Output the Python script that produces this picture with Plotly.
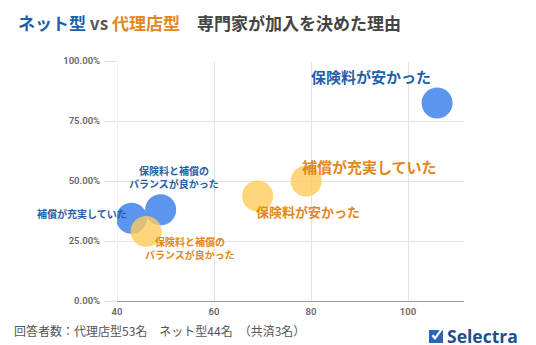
import plotly.graph_objects as go

# ---- data ----
net_labels = ["補償が充実していた", "保険料と補償の<br>バランスが良かった", "保険料が安かった"]
net_x = [43, 49, 106]
net_y = [0.345, 0.38, 0.825]

agency_labels = ["保険料と補償の<br>バランスが良かった", "保険料が安かった", "補償が充実していた"]
agency_x = [46, 69, 79]
agency_y = [0.29, 0.4375, 0.50]

x_ticks = [40, 60, 80, 100]
y_ticks = [0, 0.25, 0.5, 0.75, 1.0]

title_net = "ネット型"
title_agency = "代理店型"
title_rest = "専門家が加入を決めた理由"
footer = "回答者数：代理店型53名　ネット型44名　（共済3名）"

W, H = 536, 345
L, R, T, B = 117, 72, 61, 44
PW, PH = W - L - R, H - T - B

BLUE = "#5c95ee"
YELLOW = "rgb(252,204,91)"
BLUE_TXT = "#1f5ea8"
ORANGE_TXT = "#e3861c"
JP = "Noto Sans CJK JP"


def px(xp):
    return (xp - L) / PW


def py(yp):
    return (H - B - yp) / PH


fig = go.Figure()
fig.add_trace(go.Scatter(x=net_x, y=net_y, mode="markers",
                         marker=dict(size=31, color=BLUE, line=dict(width=0)),
                         hoverinfo="skip", showlegend=False))
fig.add_trace(go.Scatter(x=agency_x, y=agency_y, mode="markers",
                         marker=dict(size=31, color=YELLOW, opacity=0.8, line=dict(width=0)),
                         hoverinfo="skip", showlegend=False))

# label styles: (font size, xshift, yshift)
net_style = [(10, -50, 5), (10, 13, 33), (15, -66, 27)]
agency_style = [(10, 44, -17), (13, 50, -15), (15, 63, 15)]

ann = []
for lab, x, y, (fs, dx, dy) in zip(net_labels, net_x, net_y, net_style):
    ann.append(dict(x=x, y=y, xref="x", yref="y", text="<b>" + lab + "</b>", showarrow=False,
                    xshift=dx, yshift=dy, font=dict(family=JP, size=fs, color=BLUE_TXT),
                    align="center"))
for lab, x, y, (fs, dx, dy) in zip(agency_labels, agency_x, agency_y, agency_style):
    ann.append(dict(x=x, y=y, xref="x", yref="y", text="<b>" + lab + "</b>", showarrow=False,
                    xshift=dx, yshift=dy, font=dict(family=JP, size=fs, color=ORANGE_TXT),
                    align="center"))

# title
ann.append(dict(x=px(16), y=py(23), xref="paper", yref="paper", xanchor="left", yanchor="middle",
                showarrow=False,
                text=(f"<b><span style='color:{BLUE_TXT}'>{title_net}</span>"
                      f"<span style='color:#555'> vs </span>"
                      f"<span style='color:{ORANGE_TXT}'>{title_agency}</span>"
                      f"<span style='color:#444'>　{title_rest}</span></b>"),
                font=dict(family=JP, size=17)))
# footer
ann.append(dict(x=px(12), y=py(330), xref="paper", yref="paper", xanchor="left", yanchor="middle",
                showarrow=False, text=footer, font=dict(family=JP, size=12, color="#555")))
# logo text
ann.append(dict(x=px(445), y=py(336), xref="paper", yref="paper", xanchor="left", yanchor="middle",
                showarrow=False, text="<b>Selectra</b>",
                font=dict(family="Open Sans", size=17.5, color="#1d4f91")))

shapes = [
    dict(type="rect", xref="paper", yref="paper", x0=px(429), x1=px(443), y0=py(343), y1=py(330),
         fillcolor="#2a66b5", line=dict(width=0)),
    dict(type="path", xref="paper", yref="paper",
         path=(f"M {px(431.5)} {py(336)} L {px(435)} {py(340)} L {px(444)} {py(328)} "
               f"L {px(441.5)} {py(327.5)} L {px(435)} {py(336.5)} L {px(433.5)} {py(334.5)} Z"),
         fillcolor="white", line=dict(width=0)),
]

tickfont = dict(family="Roboto", size=9.5, color="#666", weight=600)

fig.update_layout(
    width=W, height=H,
    margin=dict(l=L, r=R, t=T, b=B, pad=0),
    paper_bgcolor="white", plot_bgcolor="white",
    annotations=ann, shapes=shapes,
    xaxis=dict(range=[40, 40 + PW / 4.85], tickvals=x_ticks, showgrid=True, gridcolor="#e3e3e3",
               zeroline=False, showline=True, linecolor="#9a9a9a", linewidth=1,
               ticks="outside", ticklen=2, tickcolor="rgba(0,0,0,0)",
               tickfont=tickfont),
    yaxis=dict(range=[0, 1], tickvals=y_ticks, tickformat=".2%", showgrid=True, gridcolor="#e3e3e3",
               zeroline=False, showline=False, ticks="outside", ticklen=11, tickcolor="#dddddd",
               ticklabelstandoff=3, tickfont=tickfont),
)
fig.add_vline(x=40, line=dict(color="#e3e3e3", width=1), layer="below")

fig.write_html("out.html")
